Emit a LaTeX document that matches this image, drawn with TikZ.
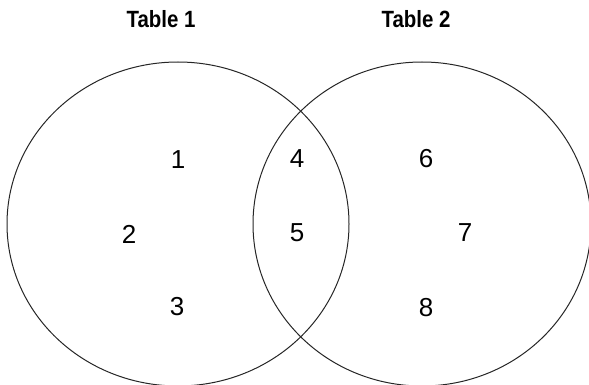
\documentclass[tikz,border=0pt]{standalone}
\usepackage{fontspec}
\setmainfont{Liberation Sans}
\begin{document}
\begin{tikzpicture}[x=1pt,y=-1pt,
  setline/.style={line width=1pt, draw=black!85},
  title/.style={font=\fontsize{23.5}{26}\selectfont\bfseries, inner sep=0pt},
  num/.style={font=\fontsize{26}{28}\selectfont, inner sep=0pt}]
\useasboundingbox (0,0) rectangle (589,385);
\draw[setline] (178,224) ellipse [x radius=171, y radius=162];
\draw[setline] (422,224) ellipse [x radius=169, y radius=162];
\node[title] (t1) at (161,19) {\scalebox{0.87}[1]{Table 1}};
\node[title] (t2) at (416,19) {\scalebox{0.87}[1]{Table 2}};
\node[num] (n1) at (178,160) {1};
\node[num] (n2) at (129,234) {2};
\node[num] (n3) at (177,307) {3};
\node[num] (n4) at (297,159) {4};
\node[num] (n5) at (297,233) {5};
\node[num] (n6) at (426,159) {6};
\node[num] (n7) at (465,233) {7};
\node[num] (n8) at (426,308) {8};
\end{tikzpicture}
\end{document}
